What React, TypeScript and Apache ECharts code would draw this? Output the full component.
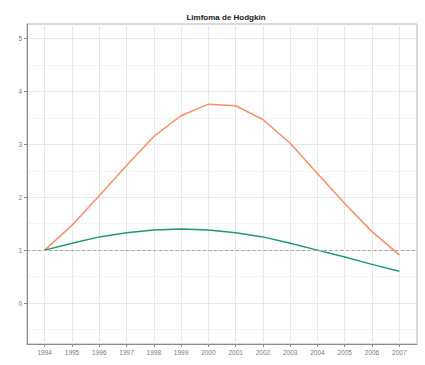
import React, { useEffect, useRef } from "react";
import * as echarts from "echarts";

const years = [1994, 1995, 1996, 1997, 1998, 1999, 2000, 2001, 2002, 2003, 2004, 2005, 2006, 2007];
const orangeSeries = [1.0, 1.47, 2.03, 2.6, 3.15, 3.54, 3.76, 3.73, 3.47, 3.02, 2.45, 1.88, 1.35, 0.91];
const greenSeries = [1.0, 1.13, 1.25, 1.33, 1.38, 1.4, 1.38, 1.33, 1.25, 1.13, 1.0, 0.87, 0.73, 0.6];
const yMajorTicks = [0, 1, 2, 3, 4, 5];
const yMinorTicks = [-0.5, 0.5, 1.5, 2.5, 3.5, 4.5];
const referenceLevel = 1;

const Y_MIN = -0.775;
const Y_MAX = 5.275;
const X_MIN = 1993.35;
const X_MAX = 2007.65;

export default function App() {
  const ref = useRef<HTMLDivElement>(null);

  useEffect(() => {
    if (!ref.current) return;
    const chart = echarts.init(ref.current, null, { renderer: "svg" });
    const font = "Liberation Sans, Arial, sans-serif";
    const gridColor = "#e8e8e8";

    chart.setOption({
      animation: false,
      backgroundColor: "#ffffff",
      title: {
        text: "Limfoma de Hodgkin",
        left: 221,
        top: 8,
        textAlign: "center",
        textStyle: { fontFamily: font, fontSize: 8, fontWeight: "bold", color: "#1a1a1a" },
      },
      grid: {
        left: 27,
        right: 8,
        top: 24,
        bottom: 21,
        show: true,
        borderColor: "#b3b3b3",
        borderWidth: 1,
        backgroundColor: "#ffffff",
      },
      xAxis: {
        type: "value",
        min: X_MIN,
        max: X_MAX,
        axisLine: { show: true, onZero: false, lineStyle: { color: "#8c8c8c", width: 1 } },
        axisTick: { show: true, length: 3, customValues: years, lineStyle: { color: "#8c8c8c" } },
        axisLabel: {
          customValues: years,
          formatter: (v: number) => String(Math.round(v)),
          fontFamily: font,
          fontSize: 6.5,
          color: "#7a7a7a",
          margin: 5,
        },
        splitLine: { show: true, lineStyle: { color: gridColor, width: 1 } },
      },
      yAxis: [
        {
          type: "value",
          min: Y_MIN,
          max: Y_MAX,
          axisLine: { show: true, onZero: false, lineStyle: { color: "#8c8c8c", width: 1 } },
          axisTick: { show: true, length: 3, customValues: yMajorTicks, lineStyle: { color: "#8c8c8c" } },
          axisLabel: {
            customValues: yMajorTicks,
            fontFamily: font,
            fontSize: 6.5,
            color: "#7a7a7a",
            margin: 5,
          },
          splitLine: { show: true, lineStyle: { color: gridColor, width: 1 } },
        },
        {
          type: "value",
          min: Y_MIN,
          max: Y_MAX,
          position: "left",
          axisLine: { show: false },
          axisTick: { show: false, customValues: yMinorTicks },
          axisLabel: { show: false, customValues: yMinorTicks },
          splitLine: { show: true, lineStyle: { color: "#f1f1f1", width: 0.7 } },
        },
      ],
      series: [
        {
          type: "line",
          data: years.map((y, i) => [y, orangeSeries[i]]),
          symbol: "none",
          lineStyle: { color: "#fc8d62", width: 1.5 },
          z: 3,
          markLine: {
            silent: true,
            symbol: "none",
            label: { show: false },
            lineStyle: { color: "#a6a6a6", type: [3, 2.5], width: 1 },
            data: [{ yAxis: referenceLevel }],
          },
        },
        {
          type: "line",
          data: years.map((y, i) => [y, greenSeries[i]]),
          symbol: "none",
          lineStyle: { color: "#1b9e5f", width: 1.5 },
          z: 4,
        },
      ],
    });

    return () => chart.dispose();
  }, []);

  return <div ref={ref} style={{ width: 425, height: 365, position: "absolute", left: 0, top: 0 }} />;
}
